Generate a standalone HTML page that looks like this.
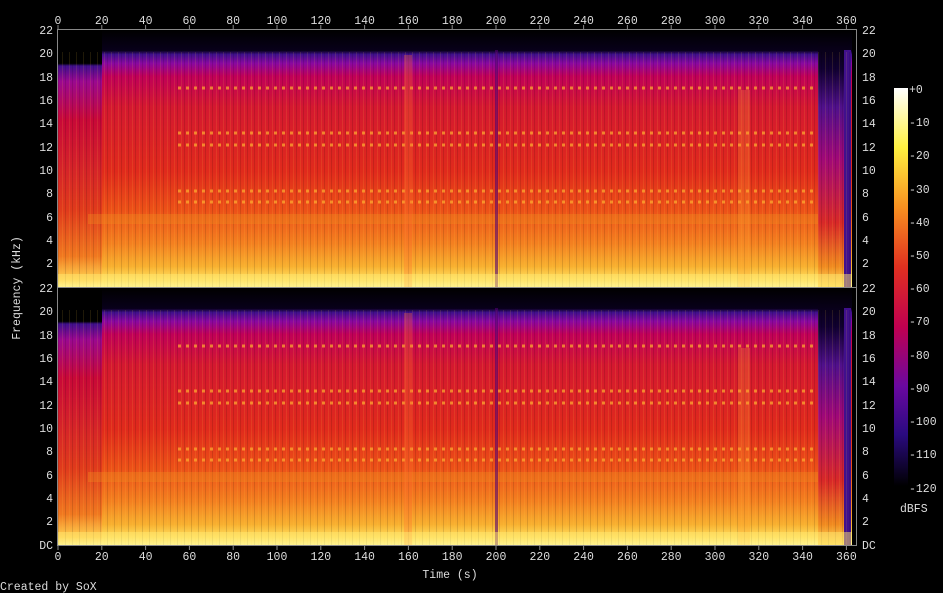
<!DOCTYPE html>
<html><head><meta charset="utf-8"><style>
html,body{margin:0;padding:0;background:#000;width:943px;height:593px;overflow:hidden}
text{font-family:"Liberation Mono","DejaVu Sans Mono",monospace;font-size:11.5px;fill:#ddd}
</style></head><body>
<svg width="943" height="593" viewBox="0 0 943 593" xmlns="http://www.w3.org/2000/svg">
<defs>
<linearGradient id="sp" x1="0" y1="0" x2="0" y2="1">
<stop offset="0" stop-color="#000"/>
<stop offset="0.08" stop-color="#08001a"/>
<stop offset="0.095" stop-color="#40108c"/>
<stop offset="0.13" stop-color="#8a08a0"/>
<stop offset="0.18" stop-color="#c00058"/>
<stop offset="0.3" stop-color="#d41830"/>
<stop offset="0.55" stop-color="#e02a1c"/>
<stop offset="0.7" stop-color="#ec5018"/>
<stop offset="0.83" stop-color="#f48020"/>
<stop offset="0.92" stop-color="#f8b030"/>
<stop offset="0.97" stop-color="#ffe060"/>
<stop offset="1" stop-color="#ffffb0"/>
</linearGradient>
<linearGradient id="sl" x1="0" y1="0" x2="0" y2="1">
<stop offset="0" stop-color="#000"/>
<stop offset="0.13" stop-color="#000"/>
<stop offset="0.14" stop-color="#40108c"/>
<stop offset="0.2" stop-color="#9a0890"/>
<stop offset="0.35" stop-color="#c80838"/>
<stop offset="0.7" stop-color="#e03a1c"/>
<stop offset="0.88" stop-color="#f07820"/>
<stop offset="0.97" stop-color="#ffd050"/>
<stop offset="1" stop-color="#ffffb0"/>
</linearGradient>
<linearGradient id="se" x1="0" y1="0" x2="0" y2="1">
<stop offset="0" stop-color="#000"/>
<stop offset="0.15" stop-color="#100030"/>
<stop offset="0.3" stop-color="#50108c"/>
<stop offset="0.5" stop-color="#a00878"/>
<stop offset="0.75" stop-color="#d82828"/>
<stop offset="0.92" stop-color="#f08a20"/>
<stop offset="1" stop-color="#ffe060"/>
</linearGradient>
<pattern id="vs" width="7" height="10" patternUnits="userSpaceOnUse">
<rect x="0" y="0" width="1" height="10" fill="#000" opacity="0.12"/>
<rect x="4" y="0" width="1" height="10" fill="#ffd040" opacity="0.12"/>
</pattern>
<linearGradient id="cb" x1="0" y1="0" x2="0" y2="1">
<stop offset="0" stop-color="#ffffff"/>
<stop offset="0.15" stop-color="#fff040"/>
<stop offset="0.3" stop-color="#f89020"/>
<stop offset="0.45" stop-color="#e03020"/>
<stop offset="0.6" stop-color="#c00050"/>
<stop offset="0.75" stop-color="#6a08a0"/>
<stop offset="0.87" stop-color="#2a0a80"/>
<stop offset="1" stop-color="#000"/>
</linearGradient>
<g id="ch">
<rect x="0" y="0" width="796" height="257" fill="url(#sp)"/>
<rect x="0" y="0" width="44" height="257" fill="url(#sl)"/>
<rect x="760" y="0" width="30" height="257" fill="url(#se)"/>
<rect x="786" y="20" width="7" height="237" fill="#40108c"/>
<rect x="0" y="22" width="796" height="235" fill="url(#vs)"/>
<g stroke="#ffb030" stroke-width="3" stroke-dasharray="3 5" opacity="0.7">
<line x1="120" y1="58" x2="760" y2="58"/>
<line x1="120" y1="103" x2="760" y2="103"/>
<line x1="120" y1="115" x2="760" y2="115"/>
<line x1="120" y1="161" x2="760" y2="161"/>
<line x1="120" y1="172" x2="760" y2="172"/>
</g>
<rect x="30" y="184" width="730" height="10" fill="#f09020" opacity="0.35"/>
<rect x="346" y="25" width="8" height="232" fill="#ff7030" opacity="0.3"/>
<rect x="437" y="20" width="3" height="237" fill="#500070" opacity="0.6"/>
<rect x="680" y="60" width="12" height="197" fill="#ffa030" opacity="0.25"/>
<rect x="0" y="244" width="796" height="13" fill="#ffe870" opacity="0.5"/>
</g>
</defs>
<use href="#ch" x="58" y="30"/>
<use href="#ch" x="58" y="288"/>
<rect x="852" y="30" width="4" height="515" fill="#000"/>
<rect x="57.5" y="29.5" width="799" height="516" fill="none" stroke="#888"/>
<line x1="57" y1="287.5" x2="857" y2="287.5" stroke="#888"/>
<rect x="894" y="88" width="14" height="398" fill="url(#cb)"/>
<g stroke="#888">
<path d="M58 29v-4M101.8 29v-4M145.6 29v-4M189.4 29v-4M233.2 29v-4M277 29v-4M320.8 29v-4M364.6 29v-4M408.4 29v-4M452.2 29v-4M496 29v-4M539.8 29v-4M583.6 29v-4M627.4 29v-4M671.2 29v-4M715 29v-4M758.8 29v-4M802.6 29v-4M846.4 29v-4"/>
<path d="M58 546v4M101.8 546v4M145.6 546v4M189.4 546v4M233.2 546v4M277 546v4M320.8 546v4M364.6 546v4M408.4 546v4M452.2 546v4M496 546v4M539.8 546v4M583.6 546v4M627.4 546v4M671.2 546v4M715 546v4M758.8 546v4M802.6 546v4M846.4 546v4"/>
</g>
<g text-anchor="middle">
<text x="58" y="24">0</text><text x="101.8" y="24">20</text><text x="145.6" y="24">40</text><text x="189.4" y="24">60</text><text x="233.2" y="24">80</text><text x="277" y="24">100</text><text x="320.8" y="24">120</text><text x="364.6" y="24">140</text><text x="408.4" y="24">160</text><text x="452.2" y="24">180</text><text x="496" y="24">200</text><text x="539.8" y="24">220</text><text x="583.6" y="24">240</text><text x="627.4" y="24">260</text><text x="671.2" y="24">280</text><text x="715" y="24">300</text><text x="758.8" y="24">320</text><text x="802.6" y="24">340</text><text x="846.4" y="24">360</text>
<text x="58" y="560">0</text><text x="101.8" y="560">20</text><text x="145.6" y="560">40</text><text x="189.4" y="560">60</text><text x="233.2" y="560">80</text><text x="277" y="560">100</text><text x="320.8" y="560">120</text><text x="364.6" y="560">140</text><text x="408.4" y="560">160</text><text x="452.2" y="560">180</text><text x="496" y="560">200</text><text x="539.8" y="560">220</text><text x="583.6" y="560">240</text><text x="627.4" y="560">260</text><text x="671.2" y="560">280</text><text x="715" y="560">300</text><text x="758.8" y="560">320</text><text x="802.6" y="560">340</text><text x="846.4" y="560">360</text>
<text x="450" y="578">Time (s)</text>
</g>
<g text-anchor="end">
<text x="53" y="34">22</text><text x="53" y="57">20</text><text x="53" y="81">18</text><text x="53" y="104">16</text><text x="53" y="127">14</text><text x="53" y="151">12</text><text x="53" y="174">10</text><text x="53" y="197">8</text><text x="53" y="221">6</text><text x="53" y="244">4</text><text x="53" y="267">2</text>
<text x="53" y="292">22</text><text x="53" y="315">20</text><text x="53" y="339">18</text><text x="53" y="362">16</text><text x="53" y="385">14</text><text x="53" y="409">12</text><text x="53" y="432">10</text><text x="53" y="455">8</text><text x="53" y="479">6</text><text x="53" y="502">4</text><text x="53" y="525">2</text><text x="53" y="549">DC</text>
</g>
<g>
<text x="862" y="34">22</text><text x="862" y="57">20</text><text x="862" y="81">18</text><text x="862" y="104">16</text><text x="862" y="127">14</text><text x="862" y="151">12</text><text x="862" y="174">10</text><text x="862" y="197">8</text><text x="862" y="221">6</text><text x="862" y="244">4</text><text x="862" y="267">2</text>
<text x="862" y="292">22</text><text x="862" y="315">20</text><text x="862" y="339">18</text><text x="862" y="362">16</text><text x="862" y="385">14</text><text x="862" y="409">12</text><text x="862" y="432">10</text><text x="862" y="455">8</text><text x="862" y="479">6</text><text x="862" y="502">4</text><text x="862" y="525">2</text><text x="862" y="549">DC</text>
</g>
<g>
<text x="909" y="93">+0</text><text x="909" y="126">-10</text><text x="909" y="159">-20</text><text x="909" y="193">-30</text><text x="909" y="226">-40</text><text x="909" y="259">-50</text><text x="909" y="292">-60</text><text x="909" y="325">-70</text><text x="909" y="359">-80</text><text x="909" y="392">-90</text><text x="909" y="425">-100</text><text x="909" y="458">-110</text><text x="909" y="492">-120</text>
<text x="900" y="512">dBFS</text>
</g>
<text x="0" y="0" transform="translate(20,288) rotate(-90)" text-anchor="middle">Frequency (kHz)</text>
<text x="0" y="590">Created by SoX</text>
</svg>
</body></html>
